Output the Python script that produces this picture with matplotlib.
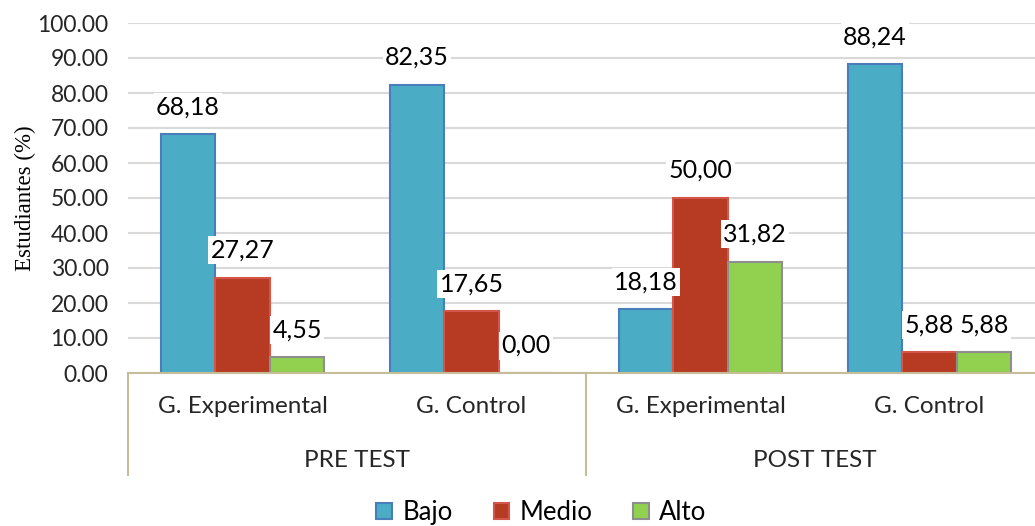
import matplotlib.pyplot as plt
import numpy as np

# datos
grupos = ['G. Experimental', 'G. Control', 'G. Experimental', 'G. Control']
fases = ['PRE TEST', 'POST TEST']
bajo = [68.18, 82.35, 18.18, 88.24]
medio = [27.27, 17.65, 50.00, 5.88]
alto = [4.55, 0.00, 31.82, 5.88]
series = ['Bajo', 'Medio', 'Alto']

colores = ['#4bacc6', '#b73a23', '#92d050']
bordes = ['#4a7ebb', '#d2574a', '#8e8e8e']

fig = plt.figure(figsize=(10.35, 5.26), dpi=100)
ax = fig.add_axes([128 / 1035, 153 / 526, 1 - 128 / 1035, 350 / 526])

x = np.arange(len(grupos))
ancho = 0.238
for i, (vals, nombre) in enumerate(zip([bajo, medio, alto], series)):
    pos = x + (i - 1) * ancho
    ax.bar(pos, vals, ancho, color=colores[i], edgecolor=bordes[i],
           linewidth=1.5, label=nombre, zorder=3)
    for px, v in zip(pos, vals):
        ax.annotate(f'{v:.2f}'.replace('.', ','), (px, v), xytext=(0, 11.5),
                    textcoords='offset points', ha='center', va='bottom',
                    fontsize=18, family='Lato', zorder=4,
                    bbox=dict(boxstyle='square,pad=0.1', fc='white', ec='none'))

ax.set_ylim(0, 100)
ax.set_xlim(-0.5, -0.5 + 907 / 229)
ax.set_yticks(np.arange(0, 101, 10))
ax.set_yticklabels([f'{t:.2f}' for t in np.arange(0, 101, 10)], family='Lato',
                   fontsize=16.5, color='#262626')
ax.tick_params(axis='y', length=0, pad=14)
ax.tick_params(axis='x', length=0, labelbottom=False)
ax.grid(axis='y', color='#d9d9d9', linewidth=1.5, zorder=0)
for s in ['top', 'right', 'left']:
    ax.spines[s].set_visible(False)
ax.spines['bottom'].set_color('#c4bd97')
ax.spines['bottom'].set_linewidth(1.5)
ax.spines['bottom'].set_zorder(5)

ax.set_ylabel('Estudiantes (%)', family='Liberation Serif', fontsize=16.5, labelpad=1)

# etiquetas de categorias en dos niveles
trans = ax.get_xaxis_transform()
for xi, g in zip(x, grupos):
    ax.text(xi, -0.097, g, transform=trans, ha='center', va='center',
            fontsize=17.5, family='Lato', color='#262626')
for j, f in enumerate(fases):
    ax.text(0.5 + 2 * j, -0.249, f, transform=trans, ha='center', va='center',
            fontsize=17.5, family='Lato', color='#262626')
for xv in [-0.5, 1.5]:
    ax.plot([xv, xv], [0, -0.2914], transform=trans, color='#c4bd97',
            linewidth=1.5, clip_on=False)

fig.legend(loc='center', bbox_to_anchor=(0.523, 0.025), ncol=3, frameon=False,
           prop={'family': 'Lato', 'size': 18.5}, handlelength=0.6, handleheight=0.6,
           columnspacing=1.6, handletextpad=0.4)

fig.savefig('out.png', dpi=100)
